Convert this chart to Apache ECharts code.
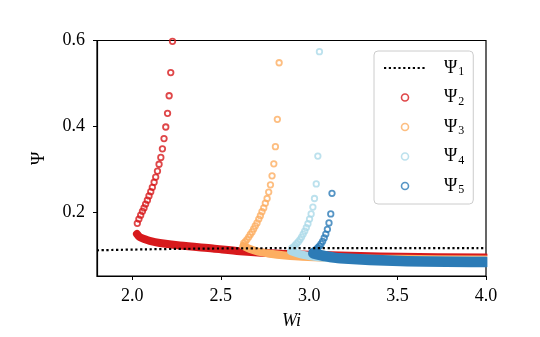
<!DOCTYPE html>
<html lang="en">
<head>
  <meta charset="UTF-8">
  <title>Psi vs Wi</title>
  <style>
    html, body { margin: 0; padding: 0; background: #fff; }
  </style>
</head>
<body>
  <div id="main" style="width: 540px;height:337px;"></div>

  <script src="https://cdn.jsdelivr.net/npm/echarts@6/dist/echarts.min.js"></script>
  <script>
    // tick labels
    const xTicks = [2.0, 2.5, 3.0, 3.5, 4.0];
    const yTicks = [0.2, 0.4, 0.6];

    // Ψ1 (dotted curve)
    const psi1 = [[1.8, 0.110], [2.2, 0.113], [2.6, 0.1145], [3.0, 0.115], [3.5, 0.115], [4.0, 0.115]];

    // Ψ2 .. Ψ5 : upper branch (separate rings) and lower branch (dense band)
    const psi2Upper = [
      [2.227, 0.598], [2.217, 0.525], [2.208, 0.471], [2.199, 0.430], [2.189, 0.398], [2.179, 0.371],
      [2.170, 0.347], [2.161, 0.327], [2.151, 0.311], [2.142, 0.295], [2.132, 0.281], [2.123, 0.269],
      [2.113, 0.257], [2.104, 0.247], [2.094, 0.237], [2.085, 0.227], [2.075, 0.218], [2.066, 0.209],
      [2.057, 0.201], [2.047, 0.192], [2.037, 0.183], [2.028, 0.173]
    ];
    const psi2Lower = [
      [2.026, 0.148], [2.041, 0.141], [2.070, 0.136], [2.098, 0.132], [2.155, 0.127], [2.268, 0.121],
      [2.455, 0.114], [2.609, 0.108], [2.836, 0.102], [3.062, 0.099], [3.289, 0.0965], [3.516, 0.0949],
      [4.0, 0.0930]
    ];

    const psi3Upper = [
      [2.830, 0.548], [2.820, 0.416], [2.809, 0.352], [2.800, 0.312], [2.790, 0.284], [2.781, 0.263],
      [2.771, 0.246], [2.762, 0.231], [2.752, 0.220], [2.743, 0.209], [2.733, 0.200], [2.724, 0.191],
      [2.715, 0.183], [2.705, 0.174], [2.695, 0.167], [2.686, 0.160], [2.677, 0.153], [2.667, 0.147],
      [2.658, 0.141], [2.648, 0.135], [2.639, 0.130], [2.630, 0.127]
    ];
    const psi3Lower = [
      [2.628, 0.120], [2.665, 0.113], [2.711, 0.107], [2.779, 0.102], [2.864, 0.098], [2.960, 0.095],
      [3.233, 0.0914], [3.516, 0.0900], [4.0, 0.0884]
    ];

    const psi4Upper = [
      [3.058, 0.574], [3.049, 0.330], [3.040, 0.265], [3.030, 0.231], [3.021, 0.211], [3.011, 0.195],
      [3.002, 0.183], [2.993, 0.172], [2.984, 0.163], [2.975, 0.155], [2.966, 0.148], [2.957, 0.141],
      [2.948, 0.135], [2.939, 0.130], [2.930, 0.126], [2.921, 0.122], [2.912, 0.118], [2.902, 0.115]
    ];
    const psi4Lower = [
      [2.898, 0.108], [2.959, 0.100], [3.051, 0.094], [3.147, 0.091], [3.516, 0.0872], [4.0, 0.086]
    ];

    const psi5Upper = [
      [3.129, 0.243], [3.122, 0.195], [3.112, 0.174], [3.103, 0.159], [3.094, 0.148], [3.085, 0.139],
      [3.076, 0.131], [3.067, 0.125], [3.058, 0.120], [3.049, 0.116], [3.040, 0.112], [3.031, 0.110]
    ];
    const psi5Lower = [
      [3.023, 0.103], [3.091, 0.0965], [3.176, 0.0912], [3.516, 0.0849], [4.0, 0.0826]
    ];

    const myChart = echarts.init(document.getElementById('main'));

    const font = 'Liberation Serif';
    const hollow = 'rgba(0,0,0,0)';
    const branches = [
      { name: 'Ψ2', color: '#d7191c', upper: psi2Upper, lower: psi2Lower, band: 8 },
      { name: 'Ψ3', color: '#fdae61', upper: psi3Upper, lower: psi3Lower, band: 8 },
      { name: 'Ψ4', color: '#abd9e9', upper: psi4Upper, lower: psi4Lower, band: 8 },
      { name: 'Ψ5', color: '#2c7bb6', upper: psi5Upper, lower: psi5Lower, band: 10.5 }
    ];

    let series = [];
    branches.forEach(b => {
      series.push({
        name: b.name,
        type: 'scatter',
        symbol: 'circle',
        symbolSize: 5.5,
        itemStyle: { color: hollow, borderColor: b.color, borderWidth: 1.8 },
        data: b.upper
      });
      series.push({
        name: b.name,
        type: 'line',
        symbol: 'none',
        smooth: 0.3,
        lineStyle: { color: b.color, width: b.band, cap: 'round', join: 'round' },
        data: b.lower
      });
    });
    series.push({
      name: 'Ψ1',
      type: 'line',
      symbol: 'none',
      smooth: true,
      z: 5,
      lineStyle: { color: '#000', width: 2.2, type: [2.2, 2.6] },
      data: psi1
    });

    const ring = c => ({ color: hollow, borderColor: c, borderWidth: 1.6 });

    const options = {
      animation: false,
      grid: {
        left: 97,
        right: 54,
        top: 40.5,
        bottom: 61,
        show: true,
        borderColor: '#000',
        borderWidth: 1.2
      },
      // hide the round line caps that stick out past the right frame
      graphic: [{
        type: 'rect',
        z: 100,
        shape: { x: 487.4, y: 230, width: 20, height: 50 },
        style: { fill: '#fff' }
      }],
      legend: {
        orient: 'vertical',
        left: 374,
        top: 51,
        padding: [8, 9, 8, 9],
        itemWidth: 42,
        itemHeight: 7,
        itemGap: 10.5,
        backgroundColor: 'rgba(255,255,255,0.8)',
        borderColor: '#cccccc',
        borderWidth: 1,
        borderRadius: 4,
        data: [
          { name: 'Ψ1', itemStyle: { color: hollow, borderWidth: 0 } },
          { name: 'Ψ2', icon: 'circle', itemStyle: ring('#d7191c') },
          { name: 'Ψ3', icon: 'circle', itemStyle: ring('#fdae61') },
          { name: 'Ψ4', icon: 'circle', itemStyle: ring('#abd9e9') },
          { name: 'Ψ5', icon: 'circle', itemStyle: ring('#2c7bb6') }
        ],
        formatter: function (name) {
          return '{a|' + name.charAt(0) + '}{s|' + name.slice(1) + '}';
        },
        textStyle: {
          rich: {
            a: { fontFamily: font, fontSize: 18, color: '#000', lineHeight: 20, padding: [0, 0, 0, 13] },
            s: { fontFamily: font, fontSize: 12, color: '#000', lineHeight: 12, verticalAlign: 'bottom', padding: [0, 0, 0, 1] }
          }
        }
      },
      xAxis: {
        type: 'value',
        min: 1.8,
        max: 4.0,
        name: 'Wi',
        nameLocation: 'middle',
        nameGap: 36,
        nameTextStyle: { fontFamily: font, fontSize: 18, fontStyle: 'italic', color: '#000' },
        splitLine: { show: false },
        axisLine: { lineStyle: { color: '#000', width: 1.2 } },
        axisTick: { customValues: xTicks, length: 4, lineStyle: { color: '#000', width: 1 } },
        axisLabel: {
          customValues: xTicks,
          margin: 11,
          fontFamily: font,
          fontSize: 18,
          color: '#000',
          formatter: v => v.toFixed(1)
        }
      },
      yAxis: {
        type: 'value',
        min: 0.05,
        max: 0.6,
        name: 'Ψ',
        nameLocation: 'middle',
        nameRotate: 90,
        nameGap: 49,
        nameTextStyle: { fontFamily: font, fontSize: 18, color: '#000' },
        splitLine: { show: false },
        axisLine: { lineStyle: { color: '#000', width: 1.2 } },
        axisTick: { customValues: yTicks, length: 4, lineStyle: { color: '#000', width: 1 } },
        axisLabel: {
          customValues: yTicks,
          margin: 12,
          fontFamily: font,
          fontSize: 18,
          color: '#000',
          formatter: v => v.toFixed(1)
        }
      },
      series: series
    };

    myChart.setOption(options);
  </script>
</body>
</html>
